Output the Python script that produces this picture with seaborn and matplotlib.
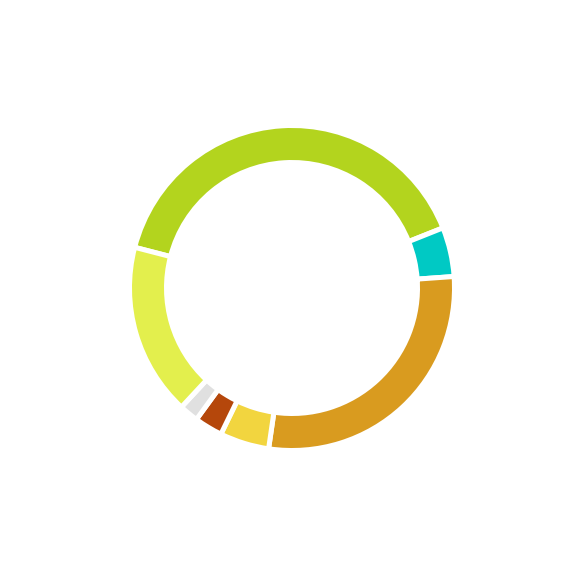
import matplotlib
matplotlib.use("Agg")
import matplotlib.pyplot as plt
import seaborn as sns

sns.set_style("white")

# clockwise, starting at the left end of the big lime arc
categories = ['A', 'B', 'C', 'D', 'E', 'F', 'G']
values = [39.9, 4.9, 28.4, 4.9, 2.8, 1.9, 17.1]
colors = ['#b3d41e', '#00c9c4', '#d99b1f', '#f2d53f', '#b5470b', '#e0e0e0', '#e3ef4d']

fig = plt.figure(figsize=(5.79, 5.75), dpi=100)
# axes of 320x320 px centred on (292, 288) px
ax = fig.add_axes([132 / 579, 127 / 575, 320 / 579, 320 / 575])

ax.pie(values, labels=None, colors=colors, startangle=165.5, counterclock=False,
       radius=162.5 / 160,
       wedgeprops=dict(width=37 / 160, edgecolor='white', linewidth=3.6))
ax.set_xlim(-1, 1)
ax.set_ylim(-1, 1)
ax.set_aspect('equal')
ax.axis('off')

fig.savefig("out.png", dpi=100, facecolor='white')
